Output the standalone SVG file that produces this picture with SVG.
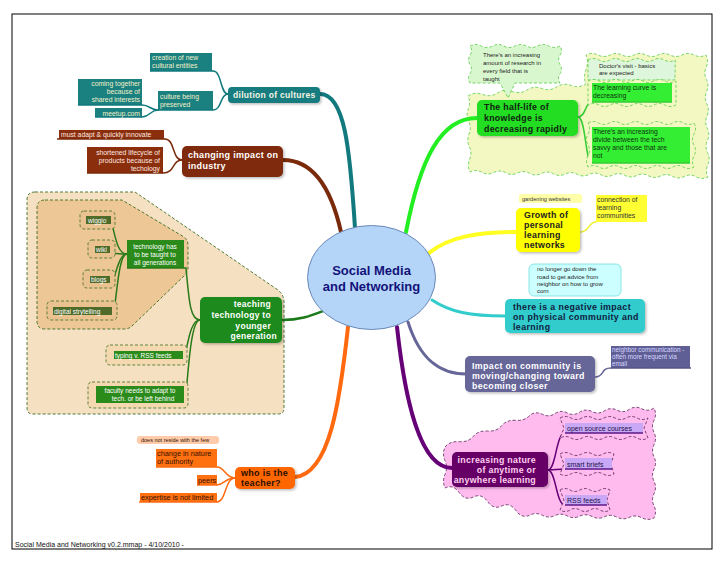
<svg xmlns="http://www.w3.org/2000/svg" width="728" height="563" viewBox="0 0 728 563">
<defs>
<filter id="sh" x="-10%" y="-10%" width="130%" height="140%"><feDropShadow dx="1.5" dy="1.5" stdDeviation="1" flood-color="#000" flood-opacity="0.25"/></filter>
<style>
text{font-family:"Liberation Sans",Arial,sans-serif}
.b{font-weight:bold}
.wave{stroke-dasharray:3,2;stroke-width:0.8}
.con{fill:none;stroke-linecap:round}
</style>
</defs>
<rect x="0" y="0" width="728" height="563" fill="#fff"/>
<rect x="12" y="14" width="700" height="535" fill="none" stroke="#000" stroke-width="1"/>

<!-- background areas -->
<g id="bg-halflife">
<path class="wave" fill="#f3f8c2" stroke="#55cc44" d="M468,96 q7,-4.5 14.75,-1.5 t14.75,-1.5 t14.75,-1.5 t14.75,-1.5 t14.75,-1.5 t14.75,-1.5 t14.75,-1.5 t14.75,-1.5 q-3,-7 0,-14.5 t0,-14.5 q6,-3 12,0 t12,0 t12,0 t12,0 t12,0 t12,0 t12,0 t12,0 t12,0 t12,0 q3,6 0.2,12.2 t0.2,12.2 t0.2,12.2 t0.2,12.2 t0.2,12.2 t0.2,12.2 t0.2,12.2 t0.2,12.2 t0.2,12.2 t0.2,12.2 q-6,3 -11.9,-0.25 t-11.9,-0.25 t-11.9,-0.25 t-11.9,-0.25 t-11.9,-0.25 t-11.9,-0.25 t-11.9,-0.25 t-11.9,-0.25 t-11.9,-0.25 t-11.9,-0.25 t-11.9,-0.25 t-11.9,-0.25 t-11.9,-0.25 t-11.9,-0.25 t-11.9,-0.25 t-11.9,-0.25 t-11.9,-0.25 t-11.9,-0.25 t-11.9,-0.25 t-11.9,-0.25 q-3,-6 -0.33,-12.67 t-0.33,-12.67 t-0.33,-12.67 t-0.33,-12.67 t-0.33,-12.67 t-0.33,-12.67 Z"/>
</g>
<g id="bg-teaching">
<path fill="#f6e0c2" stroke="#3b6e22" stroke-width="0.9" stroke-dasharray="3,2" d="M35,192 L135,192 L278,290 Q284,295 284,302 L284,408 Q284,414 278,414 L33,414 Q27,414 27,408 L27,200 Q27,192 35,192 Z"/>
<path fill="#edc795" stroke="#3b6e22" stroke-width="0.9" stroke-dasharray="3,2" d="M45,200 L122,200 L184,237 Q188,240 188,245 L188,267 Q188,272 184,276 L132,326 Q129,329 124,329 L45,329 Q37,329 37,321 L37,208 Q37,200 45,200 Z"/>
</g>
<g id="bg-anytime">
<path class="wave" fill="#ffbbee" stroke="#552255" d="M445,447 q5,-6 14.17,-5.33 t14.17,-5.33 t14.17,-5.33 t14.17,-5.33 t14.17,-5.33 t14.17,-5.33 q6,-4 12.4,-0.7 t12.4,-0.7 t12.4,-0.7 t12.4,-0.7 t12.4,-0.7 t12.4,-0.7 t12.4,-0.7 t12.4,-0.7 t12.4,-0.7 t12.4,-0.7 q3,6 0,12.22 t0,12.22 t0,12.22 t0,12.22 t0,12.22 t0,12.22 t0,12.22 t0,12.22 t0,12.22 q-6,3 -12.4,-0.3 t-12.4,-0.3 t-12.4,-0.3 t-12.4,-0.3 t-12.4,-0.3 t-12.4,-0.3 t-12.4,-0.3 t-12.4,-0.3 t-12.4,-0.3 t-12.4,-0.3 q-8,4 -14.17,-4.5 t-14.17,-4.5 t-14.17,-4.5 t-14.17,-4.5 t-14.17,-4.5 t-14.17,-4.5 q-3,-7 0,-13.67 t0,-13.67 t0,-13.67 Z"/>
</g>

<!-- connectors -->
<g id="connectors" class="con">
<path d="M320,94 C345,94 350,150 355,228" stroke="#127a7e" stroke-width="4" fill="none"/>
<path d="M283,160 C315,160 332,192 341,232" stroke="#7a2a0a" stroke-width="4" fill="none"/>
<path d="M282,320 C300,320 310,316 323,311" stroke="#1a7a1a" stroke-width="2.5" fill="none"/>
<path d="M477,118 C440,118 420,160 406,232" stroke="#22ee22" stroke-width="4" fill="none"/>
<path d="M429,253 C450,236 480,232 516,232" stroke="#ffff22" stroke-width="4" fill="none"/>
<path d="M432,300 C450,312 470,316 505,316" stroke="#33cccc" stroke-width="3" fill="none"/>
<path d="M408,322 C420,360 440,374 466,374" stroke="#666699" stroke-width="3" fill="none"/>
<path d="M397,327 C405,400 420,468 452,468" stroke="#660077" stroke-width="4" fill="none"/>
<path d="M348,327 C340,400 330,474 295,477" stroke="#ff6a10" stroke-width="4" fill="none"/>
<g stroke="#127a7e" stroke-width="1.5" fill="none">
<path d="M213,71 C222,71 220,94 228,94"/><path d="M213,110 C222,110 220,94 228,94"/>
<path d="M142,105 C150,105 150,110 158,110"/><path d="M142,117 C150,117 150,110 158,110"/>
</g>
<g stroke="#7a2a0a" stroke-width="1.5" fill="none">
<path d="M165,139 C175,139 172,160 182,160"/><path d="M163,173 C175,173 172,160 182,160"/>
</g>
<g stroke="#2a7a1a" stroke-width="1.5" fill="none">
<path d="M200,320 C190,320 189,300 186,268"/><path d="M200,320 C190,320 188,345 184,359"/><path d="M200,320 C190,320 188,380 185,403"/>
<path d="M127,254 C118,254 116,240 112,224"/><path d="M127,254 C118,254 116,253 111,253"/><path d="M127,254 C118,254 116,278 111,283"/><path d="M127,254 C118,254 117,300 113,315"/>
</g>
<g stroke="#33cc33" stroke-width="1.5" fill="none">
<path d="M578,117 C586,117 585,102 592,102"/><path d="M578,117 C586,117 585,163 592,163"/>
</g>
<path d="M580,232 C590,232 588,222 596,222" stroke="#eeee33" stroke-width="1.5" fill="none"/>
<path d="M595,377 C605,377 600,368 611,368" stroke="#666699" stroke-width="1.5" fill="none"/>
<g stroke="#660077" stroke-width="1.5" fill="none">
<path d="M548,470 C556,470 556,433 565,433"/><path d="M548,470 L565,469"/><path d="M548,470 C556,470 556,505 565,505"/>
</g>
<g stroke="#ff6a10" stroke-width="1.5" fill="none">
<path d="M235,478 C225,478 225,467 217,467"/><path d="M235,478 C225,478 224,485 217,485"/><path d="M235,478 C225,478 226,502 217,502"/>
</g>
</g>

<!-- central -->
<g id="center">
<ellipse cx="371.5" cy="277.5" rx="64" ry="52" fill="#b4d5f8" stroke="#6a88b8" stroke-width="1"/>
<text x="371.5" y="275" text-anchor="middle" class="b" font-size="13" fill="#12127a">Social Media</text>
<text x="371.5" y="291" text-anchor="middle" class="b" font-size="13" fill="#12127a">and Networking</text>
</g>

<!-- teal branch -->
<g id="dilution">
<rect x="228" y="87" width="92" height="16" rx="4" fill="#157c80" filter="url(#sh)"/>
<text x="233" y="98" class="b" font-size="8.5" fill="#f4f4e4" letter-spacing="0.3">dilution of cultures</text>
</g>
<g id="creation">
<rect x="150" y="53" width="62" height="18" fill="#1a8080"/>
<line x1="150" y1="71" x2="213" y2="71" stroke="#127a7e" stroke-width="1.5"/>
<text x="152" y="60" font-size="6.8" fill="#f4f0c8">creation of new</text>
<text x="152" y="68" font-size="6.8" fill="#f4f0c8">cultural entities</text>
</g>
<g id="culture">
<rect x="158" y="91" width="55" height="19" fill="#1a8080"/>
<line x1="158" y1="110" x2="213" y2="110" stroke="#127a7e" stroke-width="1.5"/>
<text x="160" y="99" font-size="6.8" fill="#f4f0c8">culture being</text>
<text x="160" y="107" font-size="6.8" fill="#f4f0c8">preserved</text>
</g>
<g id="coming">
<rect x="78" y="79" width="64" height="26" fill="#1a8080"/>
<line x1="78" y1="105" x2="142" y2="105" stroke="#127a7e" stroke-width="1.5"/>
<text x="140" y="86" text-anchor="end" font-size="6.8" fill="#f4f0c8">coming together</text>
<text x="140" y="94" text-anchor="end" font-size="6.8" fill="#f4f0c8">because of</text>
<text x="140" y="102" text-anchor="end" font-size="6.8" fill="#f4f0c8">shared interests</text>
</g>
<g id="meetup">
<rect x="95" y="108" width="47" height="9" fill="#1a8080"/>
<line x1="95" y1="117" x2="142" y2="117" stroke="#127a7e" stroke-width="1.5"/>
<text x="140" y="115.5" text-anchor="end" font-size="6.8" fill="#f4f0c8">meetup.com</text>
</g>

<!-- brown branch -->
<g id="industry">
<rect x="182" y="146" width="101" height="31" rx="5" fill="#802a0c" filter="url(#sh)"/>
<text x="188" y="158" class="b" font-size="9" fill="#fff" letter-spacing="0.3">changing impact on</text>
<text x="188" y="169" class="b" font-size="9" fill="#fff" letter-spacing="0.3">industry</text>
</g>
<g id="adapt">
<rect x="59" y="130" width="105" height="9" fill="#8a2e0c"/>
<line x1="57" y1="139" x2="165" y2="139" stroke="#7a2a0a" stroke-width="1.5"/>
<text x="61" y="137" font-size="6.8" fill="#ffe8e0">must adapt &amp; quickly innovate</text>
</g>
<g id="lifecycle">
<rect x="87" y="147" width="76" height="26" fill="#8a2e0c"/>
<line x1="87" y1="173" x2="163" y2="173" stroke="#7a2a0a" stroke-width="1.5"/>
<text x="160" y="155" text-anchor="end" font-size="6.8" fill="#ffe8e0">shortened lifecycle of</text>
<text x="160" y="163" text-anchor="end" font-size="6.8" fill="#ffe8e0">products because of</text>
<text x="160" y="171" text-anchor="end" font-size="6.8" fill="#ffe8e0">techology</text>
</g>

<!-- teaching branch -->
<g id="teaching">
<rect x="200" y="297" width="82" height="46" rx="5" fill="#1e8a1e" filter="url(#sh)"/>
<text x="271" y="307" text-anchor="end" class="b" font-size="8.5" fill="#fff" letter-spacing="0.3">teaching</text>
<text x="271" y="318" text-anchor="end" class="b" font-size="8.5" fill="#fff" letter-spacing="0.3">technology to</text>
<text x="271" y="329" text-anchor="end" class="b" font-size="8.5" fill="#fff" letter-spacing="0.3">younger</text>
<text x="277" y="339" text-anchor="end" class="b" font-size="8.5" fill="#fff" letter-spacing="0.3">generation</text>
</g>
<g id="techhas">
<rect x="127" y="240" width="57" height="28" fill="#2a8a1a"/>
<line x1="127" y1="268" x2="186" y2="268" stroke="#2a7a1a" stroke-width="1.5"/>
<text x="155" y="249" text-anchor="middle" font-size="6.5" fill="#fff">technology has</text>
<text x="155" y="257" text-anchor="middle" font-size="6.5" fill="#fff">to be taught to</text>
<text x="155" y="265" text-anchor="middle" font-size="6.5" fill="#fff">all generations</text>
</g>
<g id="wiggio">
<rect x="80" y="211" width="35" height="18" rx="4" fill="#e9c290" stroke="#3b6e22" stroke-width="0.8" stroke-dasharray="3,2"/>
<rect x="86" y="216" width="25" height="8" fill="#4f6b2a"/>
<text x="88" y="222.5" font-size="6.5" fill="#fff">wiggio</text>
</g>
<g id="wiki">
<rect x="88" y="240" width="27" height="18" rx="4" fill="#e9c290" stroke="#3b6e22" stroke-width="0.8" stroke-dasharray="3,2"/>
<rect x="95" y="246" width="15" height="7" fill="#4f6b2a"/>
<text x="96" y="252" font-size="6.5" fill="#fff">wiki</text>
</g>
<g id="blogs">
<rect x="83" y="270" width="32" height="18" rx="4" fill="#e9c290" stroke="#3b6e22" stroke-width="0.8" stroke-dasharray="3,2"/>
<rect x="90" y="276" width="20" height="7" fill="#4f6b2a"/>
<text x="91" y="282" font-size="6.5" fill="#fff">blogs</text>
</g>
<g id="digital">
<rect x="47" y="301" width="70" height="19" rx="4" fill="#e9c290" stroke="#3b6e22" stroke-width="0.8" stroke-dasharray="3,2"/>
<rect x="53" y="307" width="59" height="8" fill="#4f6b2a"/>
<text x="54" y="313.5" font-size="6.5" fill="#fff">digital strytelling</text>
</g>
<g id="typing">
<rect x="106" y="345" width="81" height="20" rx="4" fill="#f4d8b0" stroke="#3b6e22" stroke-width="0.8" stroke-dasharray="3,2"/>
<rect x="114" y="351" width="69" height="8" fill="#2a8a1a"/>
<text x="115" y="357.5" font-size="6.5" fill="#fff">typing v. RSS feeds</text>
</g>
<g id="faculty">
<rect x="88" y="382" width="100" height="26" rx="4" fill="#f4d8b0" stroke="#3b6e22" stroke-width="0.8" stroke-dasharray="3,2"/>
<rect x="96" y="386" width="88" height="17" fill="#2a8a1a"/>
<text x="140" y="393" text-anchor="middle" font-size="6.5" fill="#fff">faculty needs to adapt to</text>
<text x="143" y="401" text-anchor="middle" font-size="6.5" fill="#fff">tech. or be left behind</text>
</g>

<!-- half-life branch -->
<g id="research">
<path class="wave" fill="#d9f7cf" stroke="#55cc44" d="M470,46 q5.6,-3 11.25,0 t11.25,0 t11.25,0 t11.25,0 t11.25,0 t11.25,0 t11.25,0 t11.25,0 q3,4.5 0,9.25 t0,9.25 t0,9.25 t0,9.25 L515,83 L508,98 L500,83 L470,83 q-3,-4.5 0,-9.25 t0,-9.25 t0,-9.25 t0,-9.25 Z"/>
<text x="483" y="57" font-size="6" fill="#222">There's an increasing</text>
<text x="483" y="65" font-size="6" fill="#222">amount of research in</text>
<text x="483" y="73" font-size="6" fill="#222">every field that is</text>
<text x="483" y="81" font-size="6" fill="#222">taught</text>
</g>
<g id="halflife">
<rect x="477" y="100" width="101" height="36" rx="5" fill="#22dd22" filter="url(#sh)"/>
<text x="484" y="110" class="b" font-size="8.8" fill="#112211" letter-spacing="0.3">The half-life of</text>
<text x="484" y="121" class="b" font-size="8.8" fill="#112211" letter-spacing="0.3">knowledge is</text>
<text x="484" y="132" class="b" font-size="8.8" fill="#112211" letter-spacing="0.3">decreasing rapidly</text>
</g>
<g id="doctor">
<path class="wave" fill="#def7dc" stroke="#55cc44" d="M588,60 q5.4,-3 10.9,0 t10.9,0 t10.9,0 t10.9,0 t10.9,0 t10.9,0 t10.9,0 t10.9,0 L675,80 L588,80 Z"/>
<text x="599" y="68" font-size="6" fill="#222">Doctor's visit - basics</text>
<text x="599" y="75" font-size="6" fill="#222">are expected</text>
</g>
<g id="learningcurve">
<path class="wave" fill="#f3f8c2" stroke="#55cc44" d="M588,81 q5.5,-3 11,0 t11,0 t11,0 t11,0 t11,0 t11,0 t11,0 t11,0 L676,105 q-5.5,3 -11,0 t-11,0 t-11,0 t-11,0 t-11,0 t-11,0 t-11,0 t-11,0 Z"/>
<rect x="592" y="83" width="80" height="19" fill="#33ee33"/>
<line x1="592" y1="102" x2="672" y2="102" stroke="#33cc33" stroke-width="1.5"/>
<text x="593" y="90" font-size="6.8" fill="#113311">The learning curve is</text>
<text x="593" y="98" font-size="6.8" fill="#113311">decreasing</text>
</g>
<g id="divide">
<path class="wave" fill="#f3f8c2" stroke="#55cc44" d="M588,123 q5.3,-3 10.6,0 t10.6,0 t10.6,0 t10.6,0 t10.6,0 t10.6,0 t10.6,0 t10.6,0 t10.6,0 t10.6,0 q3,5.5 0,11 t0,11 t0,11 t0,11 q-5.3,3 -10.6,0 t-10.6,0 t-10.6,0 t-10.6,0 t-10.6,0 t-10.6,0 t-10.6,0 t-10.6,0 t-10.6,0 t-10.6,0 q-3,-5.5 0,-11 t0,-11 t0,-11 t0,-11 Z"/>
<rect x="592" y="127" width="98" height="36" fill="#33ee33"/>
<line x1="592" y1="163" x2="690" y2="163" stroke="#33cc33" stroke-width="1.5"/>
<text x="593" y="134" font-size="6.8" fill="#113311">There's an increasing</text>
<text x="593" y="142" font-size="6.8" fill="#113311">divide between the tech</text>
<text x="593" y="150" font-size="6.8" fill="#113311">savvy and those that are</text>
<text x="593" y="158" font-size="6.8" fill="#113311">not</text>
</g>

<!-- yellow branch -->
<g id="gardening">
<rect x="519" y="194" width="63" height="9" rx="2" fill="#ffffaa"/>
<text x="522" y="201" font-size="5.6" fill="#333">gardening websites</text>
</g>
<g id="growth">
<rect x="516" y="208" width="64" height="44" rx="5" fill="#ffff00" filter="url(#sh)"/>
<text x="524" y="218" class="b" font-size="8.8" fill="#222" letter-spacing="0.3">Growth of</text>
<text x="524" y="228" class="b" font-size="8.8" fill="#222" letter-spacing="0.3">personal</text>
<text x="524" y="238" class="b" font-size="8.8" fill="#222" letter-spacing="0.3">learning</text>
<text x="524" y="248" class="b" font-size="8.8" fill="#222" letter-spacing="0.3">networks</text>
</g>
<g id="connection">
<rect x="596" y="195" width="51" height="27" fill="#ffff33"/>
<text x="597" y="202" font-size="6.8" fill="#333">connection of</text>
<text x="597" y="210" font-size="6.8" fill="#333">learning</text>
<text x="597" y="218" font-size="6.8" fill="#333">communities</text>
</g>

<!-- cyan branch -->
<g id="nolonger">
<rect x="529" y="264" width="92" height="32" rx="5" fill="#ccffff" stroke="#77dddd" stroke-width="0.8"/>
<text x="537" y="271" font-size="6" fill="#222">no longer go down the</text>
<text x="537" y="279" font-size="6" fill="#222">road to get advice from</text>
<text x="537" y="286" font-size="6" fill="#222">neighbor on how to  grow</text>
<text x="537" y="293" font-size="6" fill="#222">corn</text>
</g>
<g id="negative">
<rect x="505" y="299" width="140" height="34" rx="5" fill="#33cccc" filter="url(#sh)"/>
<text x="513" y="310" class="b" font-size="8.8" fill="#102040" letter-spacing="0.4">there is a negative impact</text>
<text x="513" y="320" class="b" font-size="8.8" fill="#102040" letter-spacing="0.4">on physical community and</text>
<text x="513" y="330" class="b" font-size="8.8" fill="#102040" letter-spacing="0.4">learning</text>
</g>

<!-- slate branch -->
<g id="impact">
<rect x="465" y="356" width="130" height="36" rx="5" fill="#666699" filter="url(#sh)"/>
<text x="472" y="369" class="b" font-size="8.8" fill="#fff" letter-spacing="0.4">Impact on community is</text>
<text x="472" y="379" class="b" font-size="8.8" fill="#fff" letter-spacing="0.4">moving/changing toward</text>
<text x="472" y="389" class="b" font-size="8.8" fill="#fff" letter-spacing="0.4">becoming closer</text>
</g>
<g id="neighbor">
<rect x="611" y="346" width="79" height="22" fill="#5f5f96"/>
<line x1="611" y1="368" x2="691" y2="368" stroke="#555588" stroke-width="1.5"/>
<text x="612" y="352" font-size="6.3" fill="#d8d8ff">neighbor communication -</text>
<text x="612" y="359" font-size="6.3" fill="#d8d8ff">often more frequent via</text>
<text x="612" y="366" font-size="6.3" fill="#d8d8ff">email</text>
</g>

<!-- purple branch -->
<g id="anytime">
<rect x="452" y="452" width="96" height="35" rx="5" fill="#660066" filter="url(#sh)"/>
<text x="536" y="463" text-anchor="end" class="b" font-size="8.8" fill="#ffd0f0" letter-spacing="0.3">increasing nature</text>
<text x="536" y="473" text-anchor="end" class="b" font-size="8.8" fill="#ffd0f0" letter-spacing="0.3">of anytime or</text>
<text x="536" y="483" text-anchor="end" class="b" font-size="8.8" fill="#ffd0f0" letter-spacing="0.3">anywhere learning</text>
</g>
<g id="opensource">
<path class="wave" fill="#ffbbee" stroke="#552255" d="M560,418 q5.5,-3 11,0 t11,0 t11,0 t11,0 t11,0 t11,0 t11,0 t11,0 l-4,10 l4,10 q-5.5,3 -11,0 t-11,0 t-11,0 t-11,0 t-11,0 t-11,0 t-11,0 t-11,0 l4,-10 Z"/>
<rect x="565" y="423" width="78" height="10" fill="#caa8f8"/>
<line x1="565" y1="433" x2="643" y2="433" stroke="#5a1a8a" stroke-width="1.5"/>
<text x="567" y="431" font-size="7" fill="#221144">open source courses</text>
</g>
<g id="smartbriefs">
<path class="wave" fill="#ffbbee" stroke="#552255" d="M560,454 q5.4,-3 10.8,0 t10.8,0 t10.8,0 t10.8,0 t10.8,0 l-3,10 l3,10 q-5.4,3 -10.8,0 t-10.8,0 t-10.8,0 t-10.8,0 t-10.8,0 l4,-10 Z"/>
<rect x="565" y="458" width="47" height="11" fill="#caa8f8"/>
<line x1="565" y1="469" x2="612" y2="469" stroke="#5a1a8a" stroke-width="1.5"/>
<text x="567" y="466.5" font-size="7" fill="#221144">smart briefs</text>
</g>
<g id="rssfeeds">
<path class="wave" fill="#ffbbee" stroke="#552255" d="M560,490 q5,-3 10,0 t10,0 t10,0 t10,0 t10,0 l-3,10 l3,10 q-5,3 -10,0 t-10,0 t-10,0 t-10,0 t-10,0 l4,-10 Z"/>
<rect x="565" y="495" width="42" height="10" fill="#caa8f8"/>
<line x1="565" y1="505" x2="607" y2="505" stroke="#5a1a8a" stroke-width="1.5"/>
<text x="567" y="502.5" font-size="7" fill="#221144">RSS feeds</text>
</g>

<!-- orange branch -->
<g id="teacher">
<rect x="235" y="467" width="60" height="22" rx="5" fill="#ff6600" filter="url(#sh)"/>
<text x="241" y="476" class="b" font-size="9" fill="#2a1000" letter-spacing="0.3">who is the</text>
<text x="241" y="486" class="b" font-size="9" fill="#2a1000" letter-spacing="0.3">teacher?</text>
</g>
<g id="reside">
<rect x="137" y="436" width="82" height="8" rx="3" fill="#ffcbaa"/>
<text x="141" y="442" font-size="5.5" fill="#331100">does not reside with the few</text>
</g>
<g id="authority">
<rect x="156" y="449" width="61" height="18" fill="#ff7010"/>
<line x1="156" y1="467" x2="217" y2="467" stroke="#ff6a10" stroke-width="1.5"/>
<text x="157" y="456" font-size="7.3" fill="#331100">change in nature</text>
<text x="157" y="464" font-size="7.3" fill="#331100">of authority</text>
</g>
<g id="peers">
<rect x="197" y="475" width="20" height="10" fill="#ff7010"/>
<line x1="197" y1="485" x2="217" y2="485" stroke="#ff6a10" stroke-width="1.5"/>
<text x="198" y="482.5" font-size="7.3" fill="#331100">peers</text>
</g>
<g id="expertise">
<rect x="140" y="493" width="77" height="9" fill="#ff7010"/>
<line x1="139" y1="502" x2="217" y2="502" stroke="#ff6a10" stroke-width="1.5"/>
<text x="141" y="500" font-size="7.3" fill="#331100">expertise is not limited</text>
</g>

<text x="15" y="547" font-size="7" fill="#111">Social Media and Networking  v0.2.mmap - 4/10/2010 -</text>
</svg>
